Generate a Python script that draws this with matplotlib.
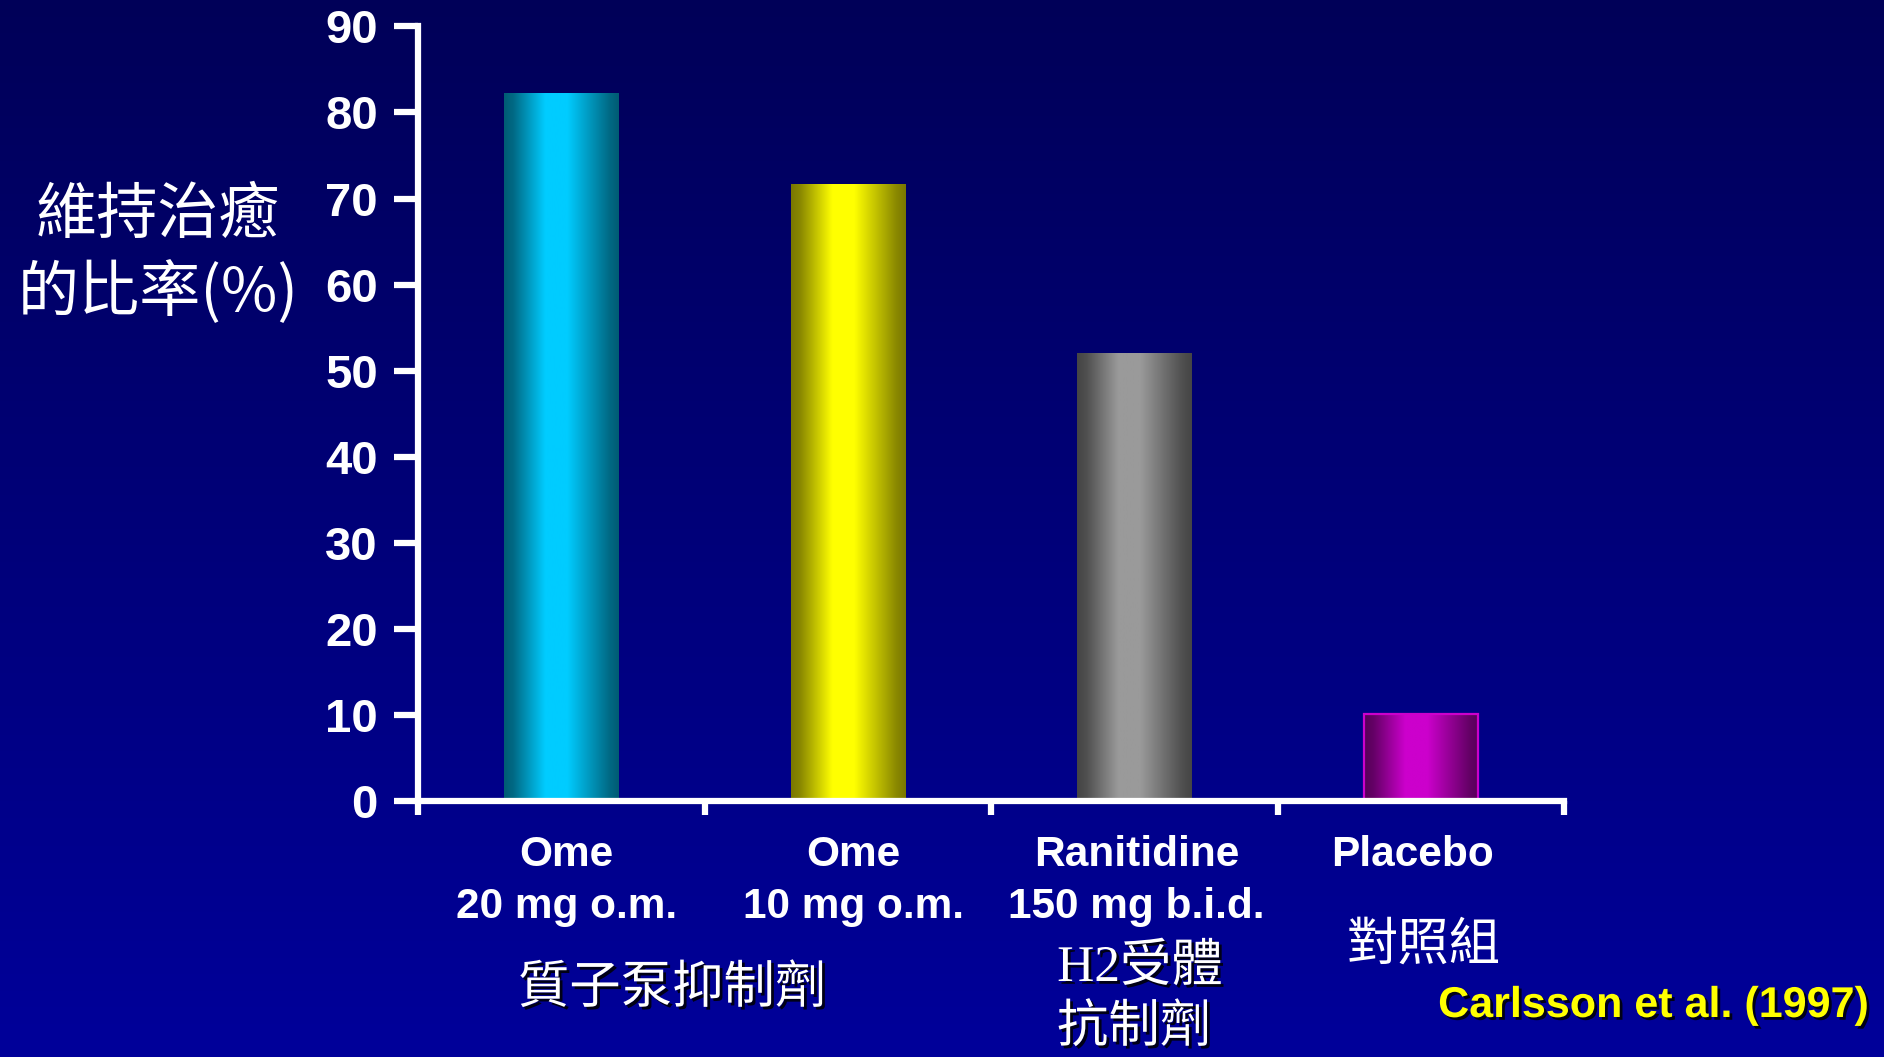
import numpy as np
import matplotlib
matplotlib.use("Agg")
import matplotlib.pyplot as plt
import matplotlib.patheffects as pe
from matplotlib.colors import LinearSegmentedColormap

# data
label_top = ["Ome", "Ome", "Ranitidine", "Placebo"]
label_dose = ["20 mg o.m.", "10 mg o.m.", "150 mg b.i.d.", ""]
healing_rate = [82.3, 71.7, 52, 10.1]
y_ticks = [0, 10, 20, 30, 40, 50, 60, 70, 80, 90]

# cylinder shading per bar (dark edge, bright centre)
bar_dark = ["#005c74", "#7a7800", "#454545", "#560058"]
bar_bright = ["#00ccff", "#ffff00", "#9a9a9a", "#cc00cc"]
# small horizontal nudges (pixels) of the category labels, as on the slide
label_nudge = [5, 6, 2, -8]

plt.rcParams["font.family"] = ["Liberation Sans", "Noto Sans CJK TC"]
CJK = ["Noto Sans CJK TC", "DejaVu Sans"]
shadow = [pe.SimplePatchShadow(offset=(2, -2), shadow_rgbFace="black", alpha=0.85), pe.Normal()]

W, H = 1884, 1057
fig = plt.figure(figsize=(W / 100, H / 100), dpi=100)

# slide background: vertical navy -> blue gradient
bg = fig.add_axes([0, 0, 1, 1], zorder=-1)
bg_cmap = LinearSegmentedColormap.from_list("bg", ["#00009a", "#000058"])
bg.imshow(np.linspace(0, 1, 256)[:, None], cmap=bg_cmap, aspect="auto",
          extent=[0, 1, 0, 1], origin="lower")
bg.axis("off")

ax = fig.add_axes([0.2219, 0.2422, 0.6083, 0.7328])
ax.set_facecolor("none")

x = np.arange(len(healing_rate)) + 0.5
bars = ax.bar(x, healing_rate, width=0.4, color="none", edgecolor="none", zorder=2)

# horizontal shading profile
t = np.linspace(0, 1, 200)
prof = np.interp(t, [0, 0.08, 0.36, 0.55, 0.92, 1], [0, 0.12, 1, 1, 0.12, 0])
for b, dk, br in zip(bars, bar_dark, bar_bright):
    cm = LinearSegmentedColormap.from_list("c", [dk, br])
    x0, w, h = b.get_x(), b.get_width(), b.get_height()
    im = ax.imshow(prof[None, :], cmap=cm, vmin=0, vmax=1, aspect="auto",
                   extent=[x0, x0 + w, 0, h], zorder=2)
    im.set_clip_path(b)
bars[3].set_edgecolor("#cc00cc")
bars[3].set_linewidth(1.6)
bars[3].set_zorder(3)

ax.set_xlim(0, 4)
ax.set_ylim(0, 90)
ax.set_yticks(y_ticks)
ax.set_xticks(np.arange(5))
ax.set_xticklabels([])
ax.spines[["top", "right"]].set_visible(False)
for s in ["left", "bottom"]:
    ax.spines[s].set_color("white")
    ax.spines[s].set_linewidth(4.5)
    ax.spines[s].set_zorder(4)
ax.tick_params(axis="y", direction="out", length=17, width=4.5, color="white",
               labelcolor="white", labelsize=34, pad=12)
ax.tick_params(axis="x", direction="out", length=10, width=4.5, color="white")
for lab in ax.get_yticklabels():
    lab.set_fontweight("bold")

# category labels under each bar
for xi, l1, l2, dx in zip(x, label_top, label_dose, label_nudge):
    xf = (ax.transData.transform((xi, 0))[0] + dx) / W
    fig.text(xf, 1 - 855 / H, l1, ha="center", va="center", fontsize=30.5,
             fontweight="bold", color="white")
    if l2:
        fig.text(xf, 1 - 907 / H, l2, ha="center", va="center", fontsize=30.5,
                 fontweight="bold", color="white")

# Chinese texts
fig.text(158 / W, 1 - 216 / H, "維持治癒", ha="center", va="center",
         fontsize=44, color="white", family=CJK)
fig.text(158 / W, 1 - 293 / H, "的比率(%)", ha="center", va="center",
         fontsize=44, color="white", family=CJK)
fig.text(672 / W, 1 - 988 / H, "質子泵抑制劑", ha="center", va="center",
         fontsize=37, color="white", family=CJK, path_effects=shadow)
fig.text(1140 / W, 1 - 968 / H, "H2受體", ha="center", va="center",
         fontsize=37, color="white", family=["Liberation Serif", "Noto Sans CJK TC"],
         path_effects=shadow)
fig.text(1134 / W, 1 - 1027 / H, "抗制劑", ha="center", va="center",
         fontsize=37, color="white", family=CJK, path_effects=shadow)
fig.text(1424 / W, 1 - 945 / H, "對照組", ha="center", va="center",
         fontsize=37, color="white", family=CJK)

fig.text(1868 / W, 1 - 1006 / H, "Carlsson et al. (1997)", ha="right", va="center",
         fontsize=31, fontweight="bold", color="#ffff00", path_effects=shadow)

fig.savefig("out.png", dpi=100)
